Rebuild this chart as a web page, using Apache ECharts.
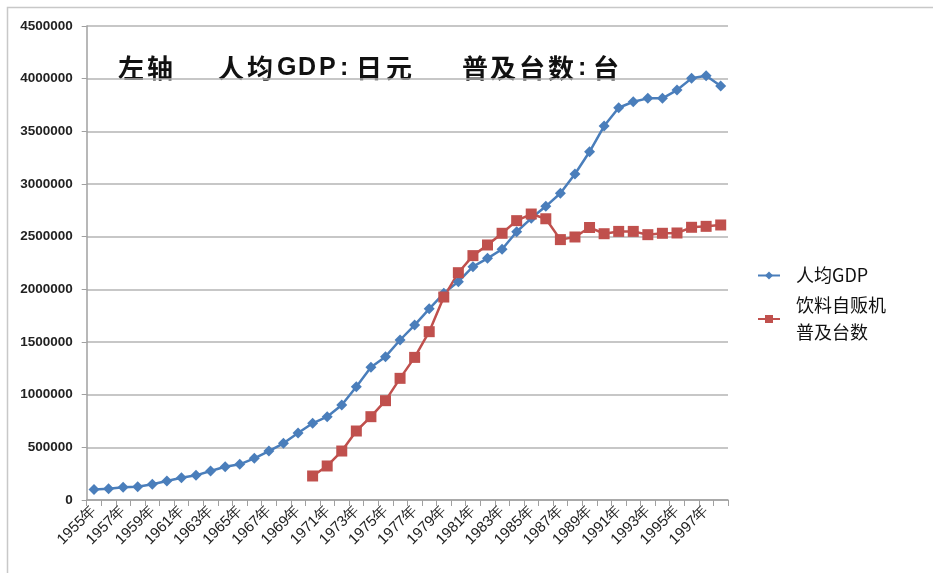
<!DOCTYPE html>
<html><head><meta charset="utf-8">
<script src="https://cdn.jsdelivr.net/npm/echarts@6/dist/echarts.min.js"></script>
<style>html,body{margin:0;padding:0;background:#fff}#c{width:933px;height:573px}</style>
</head><body><div id="c"></div>
<script>
var years = [];
for (var y = 1955; y <= 1998; y++) years.push(y + '年');
var gdpName = '人均GDP';
var vendName = '饮料自贩机\n普及台数';
var gdp = [100000,107000,120000,126000,149000,180000,212000,234000,275000,316000,339000,396000,465000,538000,636000,728000,791000,902000,1076000,1260000,1361000,1519000,1661000,1815000,1962000,2073000,2215000,2294000,2380000,2547000,2674000,2788000,2912000,3095000,3306000,3550000,3724000,3781000,3813000,3813000,3892000,4003000,4028000,3930000];
var vend = [null,null,null,null,null,null,null,null,null,null,null,null,null,null,null,228000,323000,465000,655000,791000,943000,1155000,1354000,1598000,1927000,2158000,2320000,2421000,2532000,2652000,2715000,2670000,2472000,2497000,2587000,2528000,2550000,2550000,2519000,2532000,2535000,2589000,2598000,2611000];
// title glyphs: [text, left x, latin?]
var titleParts = [['左', 118], ['轴', 147], ['人', 218], ['均', 247], ['G', 277, 1], ['D', 298, 1], ['P', 319, 1], [':', 340, 1], ['日', 356], ['元', 386],
  ['普', 462], ['及', 490], ['台', 519], ['数', 548], [':', 578, 1], ['台', 593]];

var graphics = [{
  type: 'rect', shape: {x: 7.5, y: 7.5, width: 1000, height: 1000},
  style: {fill: 'none', stroke: '#c8c8c8', lineWidth: 1.5}, silent: true
}];
titleParts.forEach(function (p) {
  graphics.push({type: 'text', x: p[1], y: 68, silent: true,
    style: {text: p[0], fontSize: p[2] ? 25 : 26, fontWeight: 'bold', fill: '#111',
      fontFamily: p[2] ? 'Liberation Sans' : 'Noto Sans CJK SC', verticalAlign: 'middle', align: 'left'}});
});

var chart = echarts.init(document.getElementById('c'));
chart.setOption({
  backgroundColor: '#fff',
  animation: false,
  graphic: graphics,
  legend: {
    orient: 'vertical', left: 752, top: 257, itemWidth: 22, itemHeight: 10, itemGap: 3,
    textStyle: {fontSize: 18, color: '#111', fontFamily: 'Noto Sans CJK SC', lineHeight: 27, padding: [0, 0, 0, 11]},
    data: [gdpName, vendName]
  },
  grid: {left: 86.7, right: 205, top: 26, bottom: 73, containLabel: false},
  xAxis: {
    type: 'category', data: years, boundaryGap: true,
    axisLine: {lineStyle: {color: '#a0a0a0', width: 1.5}},
    axisTick: {show: true, interval: 0, length: 6, lineStyle: {color: '#a0a0a0'}},
    axisLabel: {interval: 1, rotate: 45, fontSize: 15, color: '#222', fontFamily: 'Liberation Sans', margin: 8}
  },
  yAxis: {
    type: 'value', min: 0, max: 4500000, interval: 500000,
    axisLine: {show: true, lineStyle: {color: '#a0a0a0', width: 1.5}},
    axisTick: {show: true, length: 5, lineStyle: {color: '#a0a0a0'}},
    splitLine: {lineStyle: {color: '#b4b4b4', width: 1.5}},
    axisLabel: {fontSize: 13.5, color: '#222', fontWeight: 'bold', fontFamily: 'Liberation Sans', margin: 14,
      formatter: function (v) { return String(v); }}
  },
  series: [{
    name: gdpName, type: 'line', data: gdp, showAllSymbol: true,
    symbol: 'diamond', symbolSize: 11,
    itemStyle: {color: '#4a7ebb'}, lineStyle: {color: '#4a7ebb', width: 2.5}
  }, {
    name: vendName, type: 'line', data: vend, showAllSymbol: true,
    symbol: 'rect', symbolSize: 11,
    itemStyle: {color: '#c0504d'}, lineStyle: {color: '#c0504d', width: 2.5}
  }]
});
</script></body></html>
